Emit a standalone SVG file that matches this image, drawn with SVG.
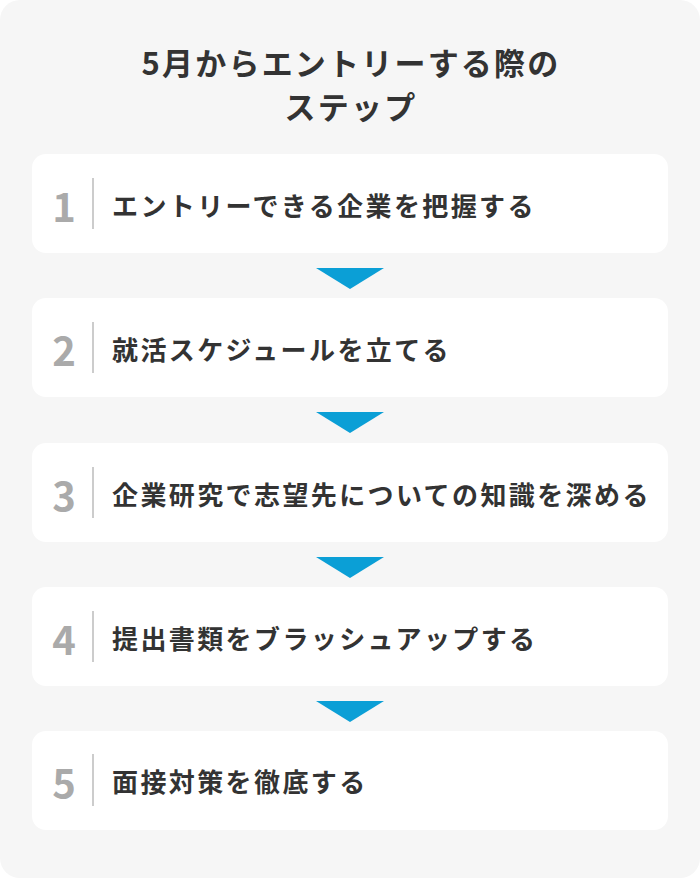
<svg xmlns="http://www.w3.org/2000/svg" width="700" height="878" viewBox="0 0 700 878">
<style>
.bg{fill:#f6f6f6}
.box{fill:#ffffff}
.title{font-family:"Noto Sans CJK JP","Noto Sans",sans-serif;font-weight:700;font-size:31px;fill:#333333;letter-spacing:2.2px;text-anchor:middle}
.num{font-family:"Noto Sans CJK JP","Noto Sans",sans-serif;font-weight:700;font-size:40px;fill:#aaaaaa;text-anchor:middle}
.sep{stroke:#cccccc;stroke-width:2}
.label{font-family:"Noto Sans CJK JP","Noto Sans",sans-serif;font-weight:700;font-size:26px;fill:#333333;letter-spacing:2.4px}
.arrow{fill:#0b9fd6}
</style>
<rect class="bg" x="0" y="0" width="700" height="878" rx="20" ry="20"/>
<g id="title">
<text class="title" x="351" y="75">5月からエントリーする際の</text>
<text class="title" x="351" y="119">ステップ</text>
</g>
<g id="step1">
<rect class="box" x="32" y="154" width="636" height="99" rx="14"/>
<text class="num" x="64" y="222">1</text>
<line class="sep" x1="93" y1="178" x2="93" y2="229"/>
<text class="label" x="112" y="216">エントリーできる企業を把握する</text>
</g>
<g id="step2">
<rect class="box" x="32" y="298" width="636" height="99" rx="14"/>
<text class="num" x="64" y="366">2</text>
<line class="sep" x1="93" y1="322" x2="93" y2="373"/>
<text class="label" x="112" y="360">就活スケジュールを立てる</text>
</g>
<g id="step3">
<rect class="box" x="32" y="443" width="636" height="99" rx="14"/>
<text class="num" x="64" y="511">3</text>
<line class="sep" x1="93" y1="467" x2="93" y2="518"/>
<text class="label" x="112" y="505">企業研究で志望先についての知識を深める</text>
</g>
<g id="step4">
<rect class="box" x="32" y="587" width="636" height="99" rx="14"/>
<text class="num" x="64" y="655">4</text>
<line class="sep" x1="93" y1="611" x2="93" y2="662"/>
<text class="label" x="112" y="649">提出書類をブラッシュアップする</text>
</g>
<g id="step5">
<rect class="box" x="32" y="731" width="636" height="99" rx="14"/>
<text class="num" x="64" y="798">5</text>
<line class="sep" x1="93" y1="754" x2="93" y2="806"/>
<text class="label" x="112" y="792">面接対策を徹底する</text>
</g>
<g id="connectors">
<polygon class="arrow" points="316,268 384,268 350,289"/>
<polygon class="arrow" points="316,412 384,412 350,433"/>
<polygon class="arrow" points="316,557 384,557 350,578"/>
<polygon class="arrow" points="316,701 384,701 350,722"/>
</g>
</svg>
